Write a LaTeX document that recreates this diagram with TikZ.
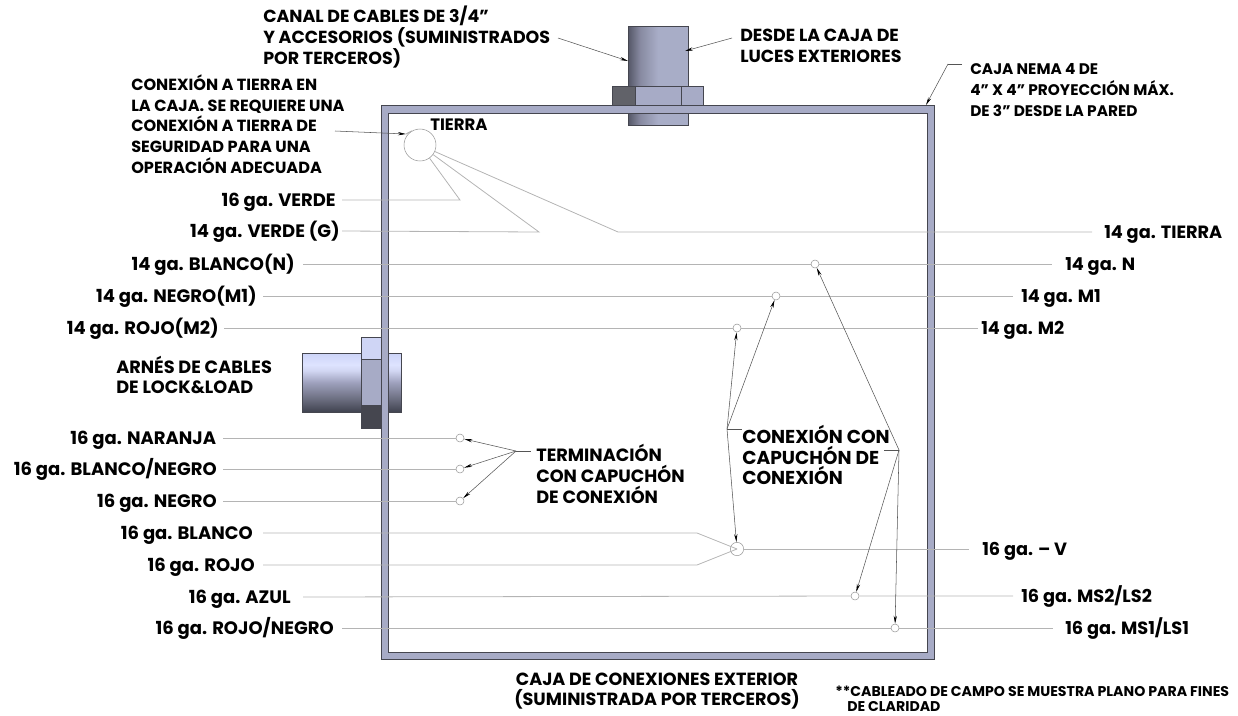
\documentclass[tikz,border=0pt]{standalone}
\usepackage{fontspec}
\setmainfont{Poppins}
\usetikzlibrary{arrows.meta}
\definecolor{steel}{HTML}{A7ABC6}
\definecolor{steellight}{HTML}{CFD5F5}
\definecolor{edge}{HTML}{45464F}
\definecolor{wire}{HTML}{B4B4B4}
\definecolor{lead}{HTML}{555555}
\pgfdeclareverticalshading{sidePipe}{100bp}{rgb(0bp)=(.25,.26,.31);rgb(25bp)=(.25,.26,.31);rgb(36bp)=(.42,.43,.50);rgb(50bp)=(.62,.63,.74);rgb(60bp)=(.82,.84,.95);rgb(65bp)=(.87,.89,1);rgb(75bp)=(.80,.83,.97);rgb(100bp)=(.80,.83,.97)}
\pgfdeclarehorizontalshading{upPipe}{100bp}{rgb(0bp)=(.33,.34,.40);rgb(25bp)=(.33,.34,.40);rgb(35bp)=(.53,.54,.63);rgb(50bp)=(.66,.68,.78);rgb(75bp)=(.66,.68,.78);rgb(100bp)=(.66,.68,.78)}
\tikzset{
  lbl/.style={font=\bfseries\fontsize{13.1}{15.6}\selectfont,text=black,inner ysep=0pt,inner xsep=0pt},
  fs/.style={font=\bfseries\fontsize{#1}{15.6}\selectfont},
  wl/.style={lbl,fs=13.5,anchor=east,text height=9.4pt,text depth=0pt,inner xsep=#1},
  wr/.style={lbl,fs=13.3,anchor=west,text height=9.4pt,text depth=0pt,inner xsep=#1},
  block/.style={lbl,anchor=west,align=left},
  wirel/.style={draw=wire,line width=0.6pt},
  leader/.style={draw=lead,line width=0.4pt},
  tip/.style={leader,-{Stealth[length=6pt,width=2.4pt,black]}},
  capc/.style={circle,draw=gray!80,line width=0.4pt,fill=white,inner sep=0pt,minimum size=6pt},
  part/.style={draw=edge,line width=0.6pt},
}
\begin{document}
\begin{tikzpicture}[x=0.75pt,y=-0.75pt]
\useasboundingbox (0,0) rectangle (1238,715);
% top conduit
\shade[shading=upPipe] (628,26) rectangle (688,125);
\draw[part] (628,26) rectangle (688,125);
\fill[steel] (612,86) rectangle (703,105);
\fill[edge!85!white] (612,86) rectangle (635,105);
\draw[part] (612,86) rectangle (703,105) (635,86) -- (635,105) (681,86) -- (681,105);
% side conduit
\shade[shading=sidePipe] (302,353) rectangle (401,412);
\draw[part] (302,353) rectangle (401,412);
\fill[steellight] (361,337) rectangle (381,359);
\fill[steel] (361,359) rectangle (381,405);
\fill[edge] (361,405) rectangle (381,428);
\draw[part] (361,337) rectangle (381,428) (361,359) -- (381,359) (361,405) -- (381,405);
% box
\draw[part,fill=steel,even odd rule] (381,105) rectangle (934,659) (388,113) rectangle (927,652);
% points
\coordinate (jVerde) at (460,200);
\coordinate (jVerdeG) at (539,232);
\coordinate (jTierra) at (618,232);
\coordinate (jBlanco) at (697,533);
\coordinate (jRojo) at (697,565);
\coordinate (hubL) at (727,429);
\coordinate (hubLe) at (742,429);
\coordinate (hubR) at (899,450);
\coordinate (hubRe) at (884,450);
\coordinate (hubT) at (516,451);
\coordinate (hubTe) at (531,451);
\coordinate (canalS) at (558,38);
\coordinate (canalE) at (628,61);
\coordinate (desdeS) at (732,38);
\coordinate (desdeE) at (685,51);
\coordinate (cajaS) at (962,64);
\coordinate (cajaK) at (948,64);
\coordinate (cajaE) at (926,105);
\coordinate (tierraS) at (335,131);
\coordinate (tierraE) at (406,134);
% caps
\node[capc,minimum size=24pt] (gnd) at (420,145) {};
\node[capc] (cN) at (815,264) {};
\node[capc] (cM1) at (776,296) {};
\node[capc] (cM2) at (737,328) {};
\node[capc] (cNar) at (460,438) {};
\node[capc] (cBN) at (460,469) {};
\node[capc] (cNeg) at (460,501) {};
\node[capc,minimum size=10pt] (cV) at (737,549) {};
\node[capc] (cMS2) at (855,596) {};
\node[capc] (cMS1) at (895,628) {};
% labels
\node[wl=4.5pt] (l1) at (342,200) {16 ga. VERDE};
\node[wl=1.5pt] (l2) at (342,231) {14 ga. VERDE (G)};
\node[wl=6pt] (l3) at (303,264) {14 ga. BLANCO(N)};
\node[wl=4.5pt] (l4) at (263,296) {14 ga. NEGRO(M1)};
\node[wl=3.75pt] (l5) at (224,328) {14 ga. ROJO(M2)};
\node[wl=5pt] (l6) at (223,438) {16 ga. NARANJA};
\node[wl=4.5pt] (l7) at (223,469) {16 ga. BLANCO/NEGRO};
\node[wl=4.5pt] (l8) at (223,501) {16 ga. NEGRO};
\node[wl=7.5pt] (l9) at (263,533) {16 ga. BLANCO};
\node[wl=6pt] (l10) at (263,565) {16 ga. ROJO};
\node[wl=9pt] (l11) at (303,597) {16 ga. AZUL};
\node[wl=6pt] (l12) at (342,628) {16 ga. ROJO/NEGRO};
\node[wr=9pt] (r1) at (1092,232) {14 ga. TIERRA};
\node[wr=9.75pt] (r2) at (1052,264) {14 ga. N};
\node[wr=6pt] (r3) at (1013,296) {14 ga. M1};
\node[wr=2.25pt] (r4) at (978,328) {14 ga. M2};
\node[wr=9.75pt] (r5) at (969,549) {16 ga. – V};
\node[wr=6pt] (r6) at (1013,596) {16 ga. MS2/LS2};
\node[wr=9pt] (r7) at (1053,628) {16 ga. MS1/LS1};
% wires
\draw[wirel] (l1.east) -- (jVerde) -- (gnd);
\draw[wirel] (l2.east) -- (jVerdeG) -- (gnd);
\draw[wirel] (r1.west) -- (jTierra) -- (gnd);
\draw[wirel] (l3.east) -- (cN) -- (r2.west);
\draw[wirel] (l4.east) -- (cM1) -- (r3.west);
\draw[wirel] (l5.east) -- (cM2) -- (r4.west);
\draw[wirel] (l6.east) -- (cNar);
\draw[wirel] (l7.east) -- (cBN);
\draw[wirel] (l8.east) -- (cNeg);
\draw[wirel] (l9.east) -- (jBlanco) -- (cV.center);
\draw[wirel] (l10.east) -- (jRojo) -- (cV.center);
\draw[wirel] (cV) -- (r5.west);
\draw[wirel] (l11.east) -- (cMS2) -- (r6.west);
\draw[wirel] (l12.east) -- (cMS1) -- (r7.west);
% texts
\node[block] (tCanal) at (263,37) {CANAL DE CABLES DE 3/4"\\Y ACCESORIOS (SUMINISTRADOS\\POR TERCEROS)};
\node[block] (tDesde) at (740,46) {DESDE LA CAJA DE\\LUCES EXTERIORES};
\node[block,fs=11.5] (tNema) at (970,90) {CAJA NEMA 4 DE\\4" X 4" PROYECCIÓN MÁX.\\DE 3" DESDE LA PARED};
\node[block,fs=12.1] (tTierra) at (131,124) {CONEXIÓN A TIERRA EN\\LA CAJA. SE REQUIERE UNA\\CONEXIÓN A TIERRA DE\\SEGURIDAD PARA UNA\\OPERACIÓN ADECUADA};
\node[block,fs=12.4] (tT) at (430,125) {TIERRA};
\node[block,fs=13.3] (tArnes) at (116,375) {ARNÉS DE CABLES\\DE LOCK\&LOAD};
\node[block,fs=13.3] (tTerm) at (536,474) {TERMINACIÓN\\CON CAPUCHÓN\\DE CONEXIÓN};
\node[block,fs=14] (tConx) at (742,455) {CONEXIÓN CON\\CAPUCHÓN DE\\CONEXIÓN};
\node[lbl,fs=13.2,align=center] (tExt) at (657,691) {CAJA DE CONEXIONES EXTERIOR\\(SUMINISTRADA POR TERCEROS)};
\node[lbl,anchor=west,align=left,font=\bfseries\fontsize{10.6}{11}\selectfont] (tNota) at (835,699) {**CABLEADO DE CAMPO SE MUESTRA PLANO PARA FINES\\\hspace*{9pt}DE CLARIDAD};
% leaders
\draw[tip] (canalS) -- (canalE);
\draw[tip] (desdeS) -- (desdeE);
\draw[leader] (cajaS) -- (cajaK);
\draw[tip] (cajaK) -- (cajaE);
\draw[tip] (tierraS) -- (tierraE);
\draw[draw=gray!60,line width=0.8pt] (tierraE) -- (gnd.120);
\draw[leader] (hubT) -- (hubTe);
\draw[tip] (hubT) -- (cNar);
\draw[tip] (hubT) -- (cBN);
\draw[tip] (hubT) -- (cNeg);
\draw[leader] (hubL) -- (hubLe);
\draw[tip] (hubL) -- (cM2);
\draw[tip] (hubL) -- (cM1);
\draw[tip] (hubL) -- (cV);
\draw[leader] (hubR) -- (hubRe);
\draw[tip] (hubR) -- (cN);
\draw[tip] (hubR) -- (cMS2);
\draw[tip] (hubR) -- (cMS1);
\end{tikzpicture}
\end{document}
